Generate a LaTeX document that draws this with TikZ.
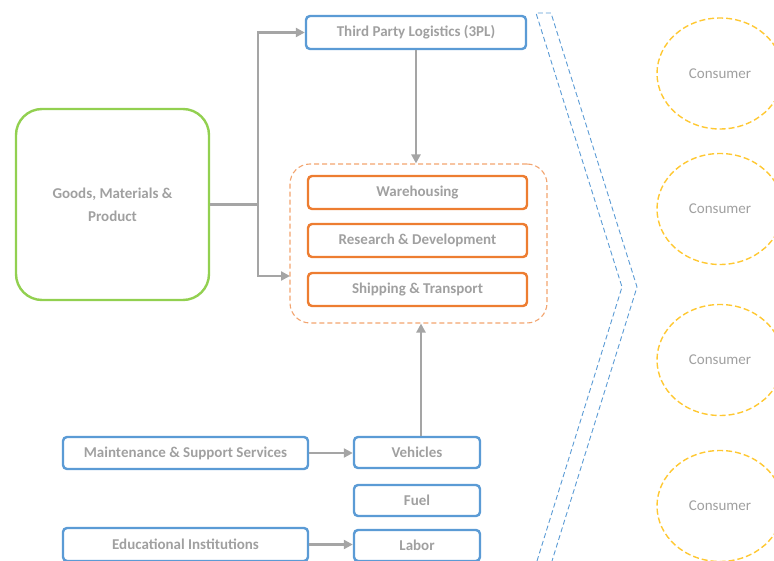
\documentclass[tikz,border=0pt]{standalone}
\usepackage{fontspec}
\setmainfont{Carlito}
\usetikzlibrary{arrows.meta,shapes.geometric}

\definecolor{boxblue}{HTML}{5B9BD5}
\definecolor{boxorange}{HTML}{ED7D31}
\definecolor{boxgreen}{HTML}{92D050}
\definecolor{linegray}{HTML}{A5A5A5}
\definecolor{textgray}{HTML}{A0A0A0}
\definecolor{consyellow}{HTML}{FFC832}

\tikzset{
  labelfont/.style={text=textgray, font=\bfseries\fontsize{15}{18}\selectfont},
  bluebox/.style={draw=boxblue, line width=2.4pt, rounded corners=4pt, inner sep=0pt, labelfont},
  orangebox/.style={draw=boxorange, line width=2.4pt, rounded corners=4pt, inner sep=0pt,
    minimum width=219pt, minimum height=33pt, labelfont},
  feed/.style={draw=linegray, line width=2.4pt, -{Triangle[length=9pt,width=9pt]}},
  consumer/.style={ellipse, draw=consyellow, line width=1.4pt, dash pattern=on 6pt off 3pt,
    minimum width=126pt, minimum height=111pt, text=textgray, font=\fontsize{15}{18}\selectfont},
}

\begin{document}
\begin{tikzpicture}[x=1pt,y=-1pt]

	\useasboundingbox (0,0) rectangle (774,561);
	\clip (0,0) rectangle (774,561);

	%The source box
	\node[draw=boxgreen, line width=2.4pt, rounded corners=26pt, minimum width=193pt, minimum height=191pt,
	  align=center, labelfont, font=\bfseries\fontsize{15}{23}\selectfont] (goods) at (112.5,204.5)
	  {Goods, Materials \&\\Product};

	%3PL on top
	\node[bluebox, minimum width=220pt, minimum height=33pt] (tpl) at (416,32.5) {Third Party Logistics (3PL)};

	%The dashed group with the three services
	\node[draw=boxorange!70, line width=1.1pt, dash pattern=on 5pt off 3pt, rounded corners=20pt,
	  minimum width=257pt, minimum height=159pt] (hub) at (418.5,243.5) {};
	\node[orangebox] (ware) at (417.5,192.5) {Warehousing};
	\node[orangebox] (rnd) at (417.5,240.5) {Research \& Development};
	\node[orangebox] (ship) at (417.5,289.5) {Shipping \& Transport};

	%Inputs at the bottom
	\node[bluebox, minimum width=245pt, minimum height=32pt] (maint) at (185.5,453) {Maintenance \& Support Services};
	\node[bluebox, minimum width=126pt, minimum height=31pt] (veh) at (417,452.5) {Vehicles};
	\node[bluebox, minimum width=126pt, minimum height=31pt] (fuel) at (417,500.5) {Fuel};
	\node[bluebox, minimum width=245pt, minimum height=33pt] (edu) at (185.5,544.5) {Educational Institutions};
	\node[bluebox, minimum width=126pt, minimum height=31pt] (labor) at (417,545.5) {Labor};

	%Connectors
	\coordinate (split) at (258,204.5);
	\coordinate (hubin) at (290,276);
	\draw[feed] (goods.east) -- (split) |- (tpl.west);
	\draw[feed] (split) |- (hubin);
	\draw[feed] (tpl.south) -- (tpl.south |- hub.north);
	\draw[feed] ([xshift=4pt]veh.north) -- ([xshift=4pt]veh.north |- hub.south);
	\draw[feed] (maint.east) -- (maint.east -| veh.west);
	\draw[feed] (edu.east) -- (edu.east -| labor.west);

	%The chevron
	\draw[boxblue, line width=0.9pt, dash pattern=on 5pt off 3pt] (537,561) -- (622,287) -- (536,13) -- (551,13) -- (637,287) -- (552,561);

	%Consumers
	\node[consumer] (cons1) at (720,73.5) {Consumer};
	\node[consumer] (cons2) at (720,209) {Consumer};
	\node[consumer] (cons3) at (720,360) {Consumer};
	\node[consumer] (cons4) at (720,506) {Consumer};

\end{tikzpicture}
\end{document}
